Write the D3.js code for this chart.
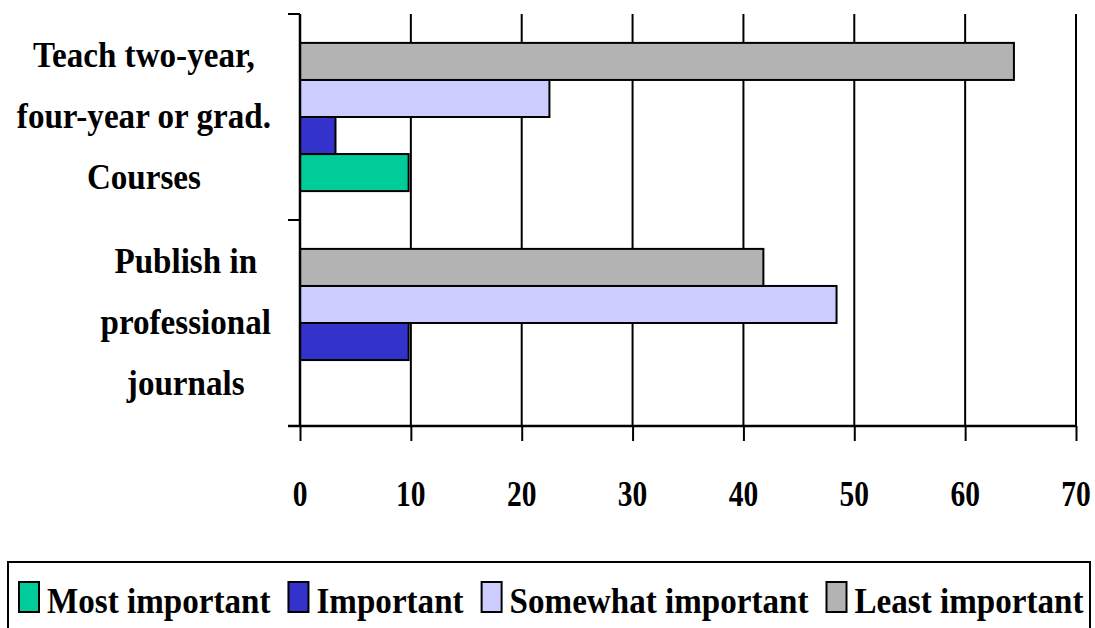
<!DOCTYPE html>
<html>
<head>
<meta charset="utf-8">
<script src="https://cdn.jsdelivr.net/npm/d3@7"></script>
<style>
  body { margin: 0; background: #fff; }
</style>
</head>
<body>
<svg id="chart" width="1095" height="628"></svg>
<script>
// data
var categories = ["Teach two-year, four-year or grad. Courses", "Publish in professional journals"];
var categoryLines = [["Teach two-year,", "four-year or grad.", "Courses"], ["Publish in", "professional", "journals"]];
var seriesNames = ["Most important", "Important", "Somewhat important", "Least important"];
var mostImportant = [9.8, 0];
var important = [3.2, 9.8];
var somewhatImportant = [22.5, 48.4];
var leastImportant = [64.4, 41.8];
var xTicks = [0, 10, 20, 30, 40, 50, 60, 70];
var seriesColors = ["#00cc99", "#3333cc", "#ccccff", "#b3b3b3"];

var seriesValues = [mostImportant, important, somewhatImportant, leastImportant];
// bars are stacked top to bottom in reverse legend order
var barOrder = seriesNames.slice().reverse();

var svg = d3.select("#chart");
var fontFamily = "'Liberation Serif', 'DejaVu Serif', serif";
var fontSize = 36;
var squeeze = 0.92; // the original font is a little narrow

var margin = {left: 300, right: 1076, top: 14, bottom: 426};

var x = d3.scaleLinear().domain([0, 70]).range([margin.left, margin.right]);
var y0 = d3.scaleBand().domain(categories).range([margin.top, margin.bottom]);
var y1 = d3.scaleBand().domain(barOrder)
    .range([0, y0.bandwidth()])
    .paddingOuter(0.78);

function label(sel) {
    return sel.attr("font-family", fontFamily)
        .attr("font-weight", "bold")
        .attr("font-size", fontSize)
        .attr("fill", "#000");
}

// gridlines
svg.append("g")
    .selectAll("line")
    .data(xTicks.slice(1))
    .enter()
    .append("line")
    .attr("x1", function(d) { return x(d); })
    .attr("x2", function(d) { return x(d); })
    .attr("y1", margin.top)
    .attr("y2", margin.bottom)
    .attr("stroke", "#000")
    .attr("stroke-width", 2);

// bars
var rows = [];
categories.forEach(function(c, i) {
    seriesNames.forEach(function(s, j) {
        rows.push({cat: c, series: s, value: seriesValues[j][i], color: seriesColors[j]});
    });
});

svg.append("g")
    .selectAll("rect")
    .data(rows.filter(function(d) { return d.value > 0; }))
    .enter()
    .append("rect")
    .attr("x", x(0))
    .attr("y", function(d) { return y0(d.cat) + y1(d.series); })
    .attr("width", function(d) { return x(d.value) - x(0); })
    .attr("height", y1.bandwidth())
    .attr("fill", function(d) { return d.color; })
    .attr("stroke", "#000")
    .attr("stroke-width", 2);

// x axis
var xAxis = d3.axisBottom(x).tickValues(xTicks).tickSize(15).tickFormat("");
var gx = svg.append("g")
    .attr("transform", "translate(0," + margin.bottom + ")")
    .call(xAxis);
gx.select(".domain").remove();
gx.selectAll(".tick line").attr("stroke", "#000").attr("stroke-width", 2);
gx.append("line")
    .attr("x1", margin.left - 12).attr("x2", margin.right)
    .attr("stroke", "#000").attr("stroke-width", 2.5);

svg.append("g")
    .selectAll("text")
    .data(xTicks)
    .enter()
    .append("text")
    .call(label)
    .attr("text-anchor", "middle")
    .attr("transform", function(d) { return "translate(" + x(d) + ",506) scale(0.82,1)"; })
    .text(function(d) { return d; });

// y axis
var yEdges = [margin.top].concat(categories.map(function(c) { return y0(c) + y0.bandwidth(); }));
var gy = svg.append("g");
gy.append("line")
    .attr("x1", margin.left).attr("x2", margin.left)
    .attr("y1", margin.top).attr("y2", margin.bottom)
    .attr("stroke", "#000").attr("stroke-width", 2.5);
gy.selectAll(".ytick")
    .data(yEdges)
    .enter()
    .append("line")
    .attr("x1", margin.left - 12).attr("x2", margin.left)
    .attr("y1", function(d) { return d; }).attr("y2", function(d) { return d; })
    .attr("stroke", "#000").attr("stroke-width", 2);

// category labels, lines centred in a block ending near the axis
var labelRight = 271;
categories.forEach(function(c, i) {
    var g = svg.append("g");
    var lines = categoryLines[i];
    var texts = g.selectAll("text")
        .data(lines)
        .enter()
        .append("text")
        .call(label)
        .attr("text-anchor", "middle")
        .text(function(d) { return d; });
    var widest = d3.max(texts.nodes(), function(n) { return n.getComputedTextLength(); }) * squeeze;
    var cx = labelRight - widest / 2;
    var mid = y0(c) + y0.bandwidth() / 2;
    texts.attr("transform", function(d, k) {
        var by = mid + (k - (lines.length - 1) / 2) * 61 + 11;
        return "translate(" + cx + "," + by + ") scale(" + squeeze + ",1)";
    });
});

// legend
svg.append("rect")
    .attr("x", 8).attr("y", 562)
    .attr("width", 1082).attr("height", 90)
    .attr("fill", "none")
    .attr("stroke", "#000")
    .attr("stroke-width", 2);

var lx = 19;
seriesNames.forEach(function(s, j) {
    svg.append("rect")
        .attr("x", lx).attr("y", 582)
        .attr("width", 20).attr("height", 30)
        .attr("fill", seriesColors[j])
        .attr("stroke", "#000")
        .attr("stroke-width", 2);
    var t = svg.append("text")
        .call(label)
        .attr("transform", "translate(" + (lx + 28) + ",613) scale(" + squeeze + ",1)")
        .text(s);
    var w = t.node().getComputedTextLength() * squeeze;
    lx = lx + 28 + w + 18;
});
</script>
</body>
</html>
